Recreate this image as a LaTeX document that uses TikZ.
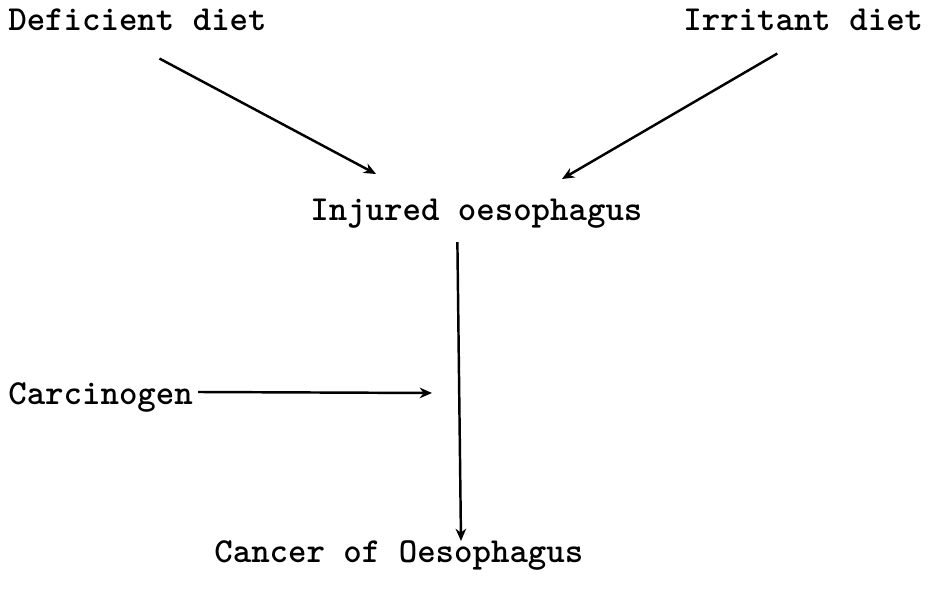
\documentclass[tikz,border=0pt]{standalone}
\usepackage{fontspec}
\usetikzlibrary{arrows.meta,positioning}
\tikzset{
  ocnode/.style={
    font=\ttfamily\bfseries\fontsize{20}{22}\selectfont,
    inner sep=0pt, anchor=base west
  },
  ocedge/.style={-{Stealth[length=7pt,width=6pt]},line width=1.4pt}
}
\begin{document}
\begin{tikzpicture}[x=0.02cm,y=-0.02cm]
\useasboundingbox (0,0) rectangle (929,598);
% causes
\node[ocnode] (deficient) at (8,31) {Deficient diet};
\node[ocnode] (irritant) at (683,31) {Irritant diet};
\node[ocnode] (injured) at (310,220) {Injured oesophagus};
\node[ocnode] (carcinogen) at (8,404) {Carcinogen};
\node[ocnode] (cancer) at (214,562) {Cancer of Oesophagus};
% free arrow ends
\coordinate (defend) at (376,174);
\coordinate (irrend) at (562,179);
\coordinate (carend) at (432,393);
\coordinate (canend) at (461,541);
\draw[ocedge] ([xshift=0.44cm,yshift=-0.54cm]deficient.south) -- (defend);
\draw[ocedge] ([xshift=-0.52cm,yshift=-0.44cm]irritant.south) -- (irrend);
\draw[ocedge] ([xshift=-0.38cm,yshift=-0.28cm]injured.south) -- (canend);
\draw[ocedge] ([xshift=0.1cm,yshift=0.1cm]carcinogen.east) -- (carend);
\end{tikzpicture}
\end{document}
